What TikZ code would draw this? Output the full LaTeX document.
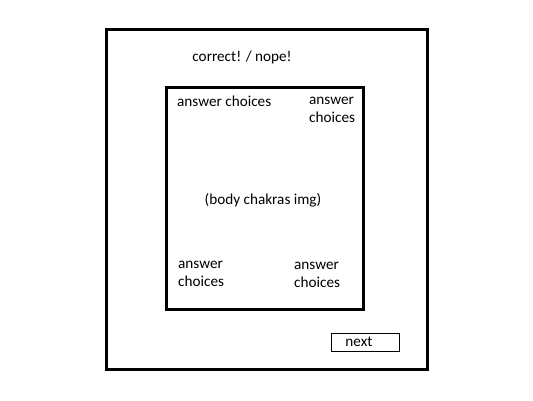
\documentclass[tikz,border=0pt]{standalone}
\usepackage{fontspec}
\setmainfont{Carlito}
\usetikzlibrary{positioning}
\tikzstyle{frame}=[line width=3pt]
\tikzstyle{label}=[font=\fontsize{15.2}{17.8}\selectfont,inner sep=0pt]
\tikzstyle{choice}=[label,align=left]

\begin{document}
\begin{tikzpicture}[x=1pt,y=-1pt]
    \useasboundingbox (0,0) rectangle (533,400);
    \draw[frame] (106,29) rectangle (427,369);
    \draw[frame] (166,87) rectangle (363,309);
    \draw[line width=1pt] (331,333) rectangle (399,351);

    \node[label] (fb) at (242,57) {correct! / nope!};
    \node[label] (img) at (263,200) {(body chakras img)};
    \node[label] (next) at (359,342) {next};

    \node[choice,anchor=west] (ctl) at (177,101) {answer choices};
    \node[choice,anchor=west] (ctr) at (309,110) {answer\\choices};
    \node[choice,anchor=west] (cbl) at (178,274) {answer\\choices};
    \node[choice,anchor=west] (cbr) at (294,275) {answer\\choices};
  \end{tikzpicture}
\end{document}
